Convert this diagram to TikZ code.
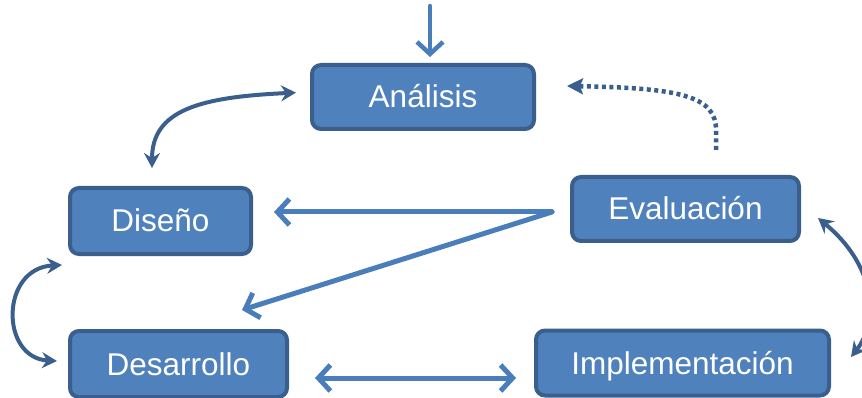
\documentclass[tikz,border=0pt]{standalone}
\usepackage{fontspec}
\setmainfont{Liberation Sans}
\usetikzlibrary{arrows.meta}
\definecolor{relleno}{HTML}{4F81BD}
\definecolor{borde}{HTML}{3A5F8C}
\definecolor{flecha}{HTML}{4A7EBB}
\begin{document}
\begin{tikzpicture}[x=1pt, y=-1pt, line join=round, line cap=round, >={Straight Barb[length=12pt,width=26pt]},
	fase/.style={draw=borde, fill=relleno, line width=4pt, rounded corners=9pt, text=white, inner sep=0pt, text height=24pt, text depth=2pt, font=\fontsize{31.5}{36}\selectfont},
	claro/.style={draw=flecha, line width=5pt},
	oscuro/.style={draw=borde, line width=4pt, {Stealth[length=15pt,width=16pt,inset=5pt]}-{Stealth[length=15pt,width=16pt,inset=5pt]}},
	punteado/.style={draw=borde, line width=4.5pt, line cap=butt, dash pattern=on 4pt off 3.5pt, -{Stealth[length=16pt,width=16pt,inset=3pt]}}]
			\useasboundingbox (0,0) rectangle (862,398);
			\clip (0,0) rectangle (862,398);
			\node[fase, minimum width=222pt, minimum height=64pt] (ana) at (423,97) {Análisis};
			\node[fase, minimum width=181pt, minimum height=66pt] (dis) at (160.5,221) {Diseño};
			\node[fase, minimum width=227pt, minimum height=64pt] (eva) at (685.5,209) {Evaluación};
			\node[fase, minimum width=217pt, minimum height=66pt] (des) at (178.5,364) {Desarrollo};
			\node[fase, minimum width=293pt, minimum height=65pt] (imp) at (682.5,363) {Implementación};
			\coordinate (entrada) at (430,6);
			\coordinate (ramal) at (552,212);
			\coordinate (haciades) at (242,310);
			\coordinate (retorno) at (716,150);
			\coordinate (haciaana) at (567,86);
			\draw[claro, ->, line width=4.5pt, shorten >=6pt] (entrada) -- (entrada |- ana.north);
			\draw[claro, ->, shorten >=21pt] (ramal) -- (dis.east |- ramal);
			\draw[claro, ->] (ramal) -- (haciades);
			\draw[claro, <->, shorten <=26pt, shorten >=18pt] ([yshift=-14pt]des.east) -- ([yshift=-15pt]imp.west);
			\draw[punteado] (retorno) -- (716,130) .. controls (716,96) and (680,88) .. (haciaana);
			\draw[oscuro, shorten <=14pt, shorten >=18pt] ([yshift=5pt]ana.west) .. controls (200,97) and (152,110) .. (dis.north -| 152,0);
			\draw[oscuro] (62,265) .. controls (0,268) and (0,358) .. (57,361);
			\draw[oscuro] (818,218) .. controls (875,265) and (880,320) .. (851,357);
		\end{tikzpicture}
\end{document}
